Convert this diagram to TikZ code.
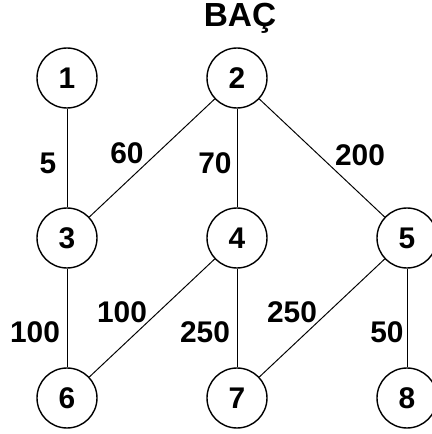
\documentclass[tikz,border=0pt]{standalone}
\usepackage{fontspec}
\setmainfont{Liberation Sans}
\begin{document}
\begin{tikzpicture}[
    vertex/.style={draw,circle,line width=0.8pt,minimum size=1.2cm,inner sep=0pt,font=\fontsize{17}{17}\selectfont\bfseries},
    weight/.style={font=\fontsize{17}{17}\selectfont\bfseries},
    edge/.style={line width=0.55pt}]
\useasboundingbox (0,0) rectangle (8.64,8.68);
\node[font=\fontsize{19}{19}\selectfont\bfseries] (title) at (4.80,8.32) {BAÇ};
% vertices, three columns
\node[vertex] (n1) at (1.34,7.12) {1};
\node[vertex] (n2) at (4.74,7.12) {2};
\node[vertex] (n3) at (1.34,3.92) {3};
\node[vertex] (n4) at (4.74,3.92) {4};
\node[vertex] (n5) at (8.14,3.92) {5};
\node[vertex] (n6) at (1.34,0.72) {6};
\node[vertex] (n7) at (4.74,0.72) {7};
\node[vertex] (n8) at (8.14,0.72) {8};
% edges
\foreach \a/\b in {n1/n3, n2/n3, n2/n4, n2/n5, n3/n6, n4/n6, n4/n7, n5/n7, n5/n8}{
    \draw[edge] (\a) -- (\b);
}
% weights
\node[weight] (w13) at (0.96,5.42) {5};
\node[weight] (w23) at (2.54,5.62) {60};
\node[weight] (w24) at (4.30,5.42) {70};
\node[weight] (w25) at (7.20,5.58) {200};
\node[weight] (w36) at (0.70,2.04) {100};
\node[weight] (w46) at (2.44,2.44) {100};
\node[weight] (w47) at (4.10,2.04) {250};
\node[weight] (w57) at (5.84,2.44) {250};
\node[weight] (w58) at (7.74,2.04) {50};
\end{tikzpicture}
\end{document}
